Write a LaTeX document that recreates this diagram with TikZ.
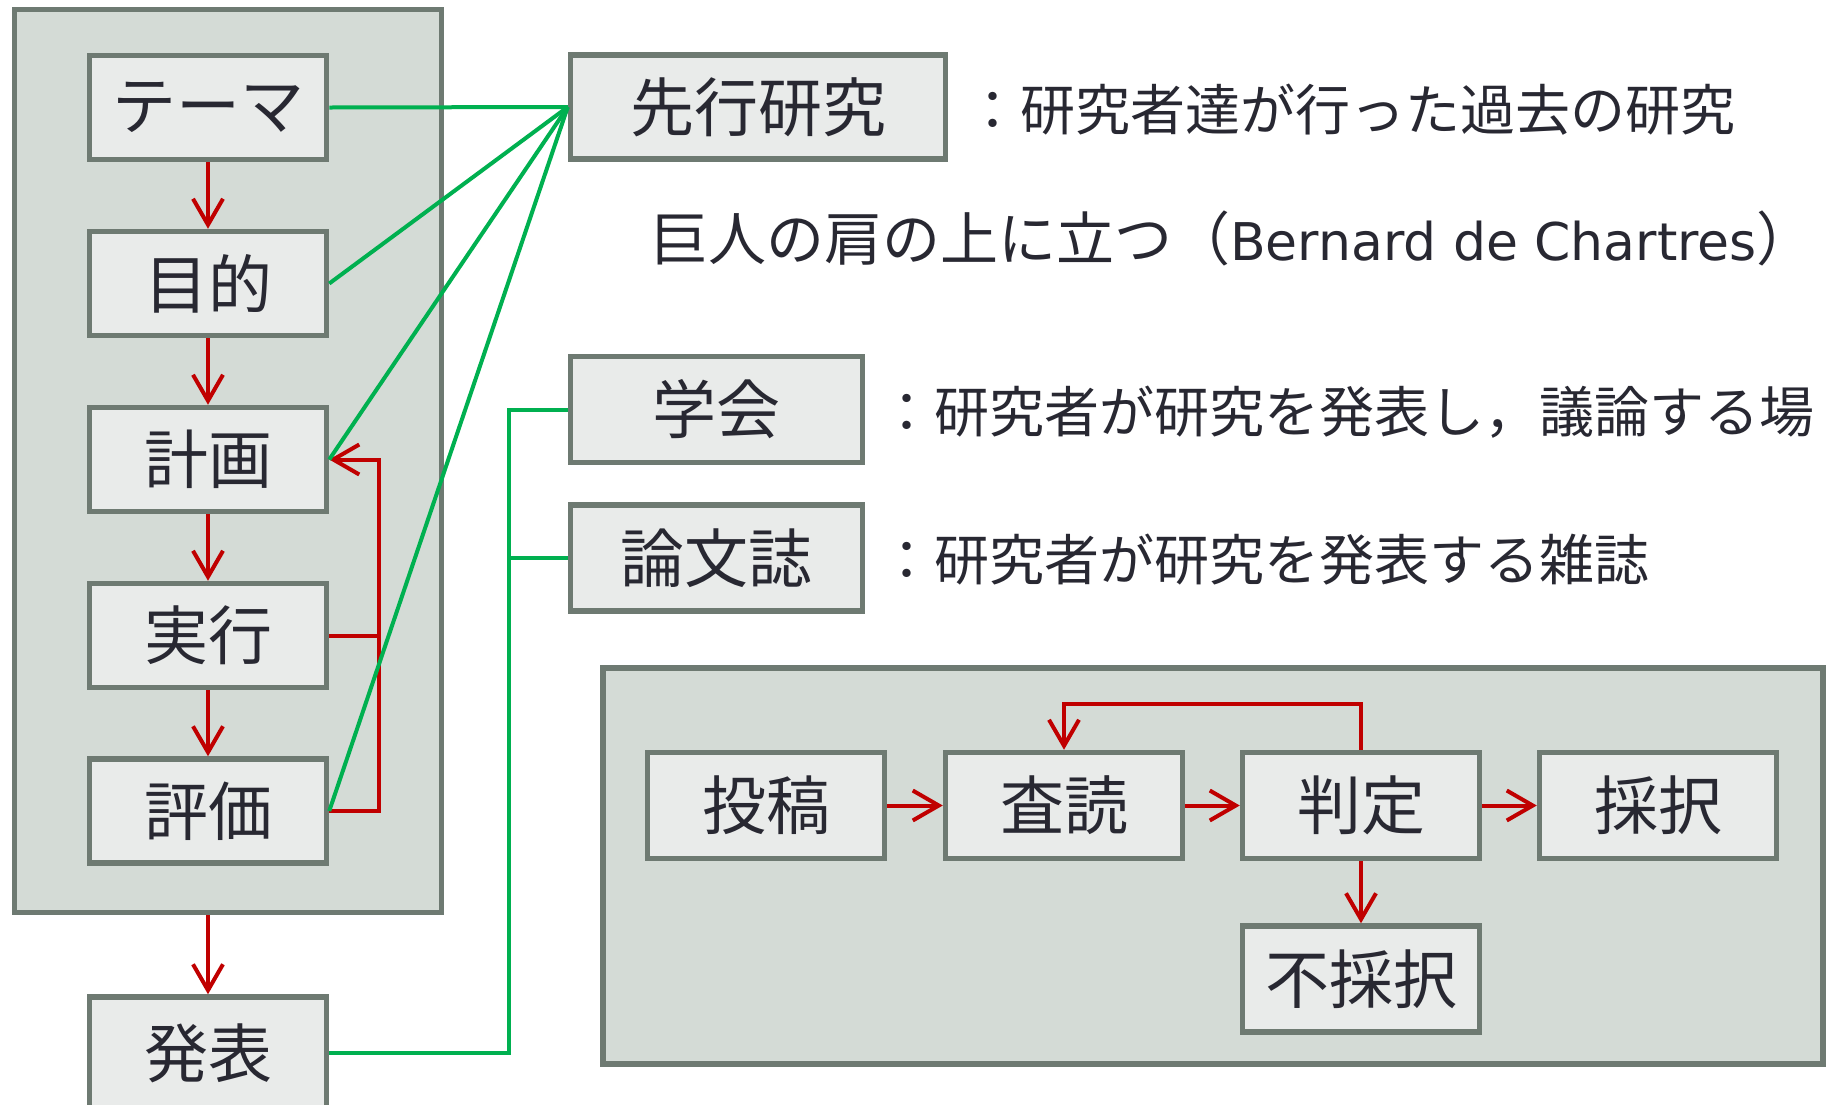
\documentclass[tikz,border=0pt]{standalone}
\usepackage{fontspec}
\setmainfont{Noto Sans CJK JP}
\newfontfamily\latinf{DejaVu Sans}
\usetikzlibrary{arrows.meta}
\definecolor{bordercol}{RGB}{110,122,114}
\definecolor{boxfill}{RGB}{233,235,234}
\definecolor{panelfill}{RGB}{212,219,214}
\definecolor{redc}{RGB}{192,0,0}
\definecolor{greenc}{RGB}{0,176,80}
\definecolor{textc}{RGB}{40,40,50}
\tikzset{
  boxnode/.style={draw=bordercol, line width=5.5pt, fill=boxfill, inner sep=0pt,
    minimum width=237pt, minimum height=104pt, text=textc,
    font=\fontsize{64}{64}\selectfont},
  framenode/.style={draw=bordercol, line width=5.5pt, fill=panelfill, inner sep=0pt},
  desc/.style={anchor=west, inner sep=0pt, text=textc, font=\fontsize{55}{55}\selectfont},
  redarrow/.style={draw=redc, line width=4pt, -{Straight Barb[length=26pt,width=30pt,line width=4pt]}},
  redline/.style={draw=redc, line width=4pt},
  greenline/.style={draw=greenc, line width=4pt},
}
\begin{document}
\begin{tikzpicture}[x=1pt, y=-1pt]
\useasboundingbox (0,0) rectangle (1828,1104);
\fill[white] (0,0) rectangle (1828,1104);
% left frame
\node[framenode, minimum width=427pt, minimum height=903pt] (leftframe) at (227.75,461) {};
% left column boxes
\node[boxnode] (theme) at (208,107.5) {テーマ};
\node[boxnode] (purpose) at (208,283.5) {目的};
\node[boxnode] (plan) at (208,459.5) {計画};
\node[boxnode] (exec) at (208,635.5) {実行};
\node[boxnode] (eval) at (208,811) {評価};
\node[boxnode, minimum height=112pt] (present) at (208,1053) {発表};
% right boxes
\node[boxnode, minimum width=375pt] (prior) at (758,107) {先行研究};
\node[boxnode, minimum width=292pt, minimum height=106pt] (gakkai) at (716.5,409.5) {学会};
\node[boxnode, minimum width=292pt, minimum height=106pt] (ronbun) at (716.5,558) {論文誌};
% descriptions
\node[desc] (d1) at (965,110) {：研究者達が行った過去の研究};
\node[desc, font=\fontsize{58}{58}\selectfont] (quote) at (650,238) {巨人の肩の上に立つ（{\latinf\fontsize{52}{52}\selectfont Bernard de Chartres}）};
\node[desc] (d2) at (879,412) {：研究者が研究を発表し，議論する場};
\node[desc] (d3) at (879,560) {：研究者が研究を発表する雑誌};
% bottom panel
\node[framenode, minimum width=1220pt, minimum height=396pt] (panel) at (1213,866) {};
\node[boxnode, minimum height=106pt] (toko) at (766,805.5) {投稿};
\node[boxnode, minimum height=106pt] (sadoku) at (1064,805.5) {査読};
\node[boxnode, minimum height=106pt] (hantei) at (1361,805.5) {判定};
\node[boxnode, minimum height=106pt] (saitaku) at (1658,805.5) {採択};
\node[boxnode, minimum height=106pt] (fusaitaku) at (1361,979) {不採択};
% red arrows left column
\draw[redarrow] (theme.south) -- (purpose.north);
\draw[redarrow] (purpose.south) -- (plan.north);
\draw[redarrow] (plan.south) -- (exec.north);
\draw[redarrow] (exec.south) -- (eval.north);
\draw[redarrow] (present.north |- leftframe.south) -- (present.north);
\draw[redline] (exec.east) -- ++(50,0);
\draw[redarrow] (eval.east) -- ++(50,0) |- (plan.east);
% green lines
\draw[greenline] (prior.west) -- (theme.east);
\draw[greenline] (prior.west) -- (purpose.east);
\draw[greenline] (prior.west) -- (plan.east);
\draw[greenline] (prior.west) -- (eval.east);
\draw[greenline] (gakkai.west) -- ++(-59,0) |- (present.east);
\draw[greenline] (ronbun.west) -- ++(-59,0);
% bottom panel arrows
\draw[redarrow] (toko.east) -- (sadoku.west);
\draw[redarrow] (sadoku.east) -- (hantei.west);
\draw[redarrow] (hantei.east) -- (saitaku.west);
\draw[redarrow] (hantei.south) -- (fusaitaku.north);
\draw[redarrow] (hantei.north) -- ++(0,-46) -| (sadoku.north);
\end{tikzpicture}
\end{document}
